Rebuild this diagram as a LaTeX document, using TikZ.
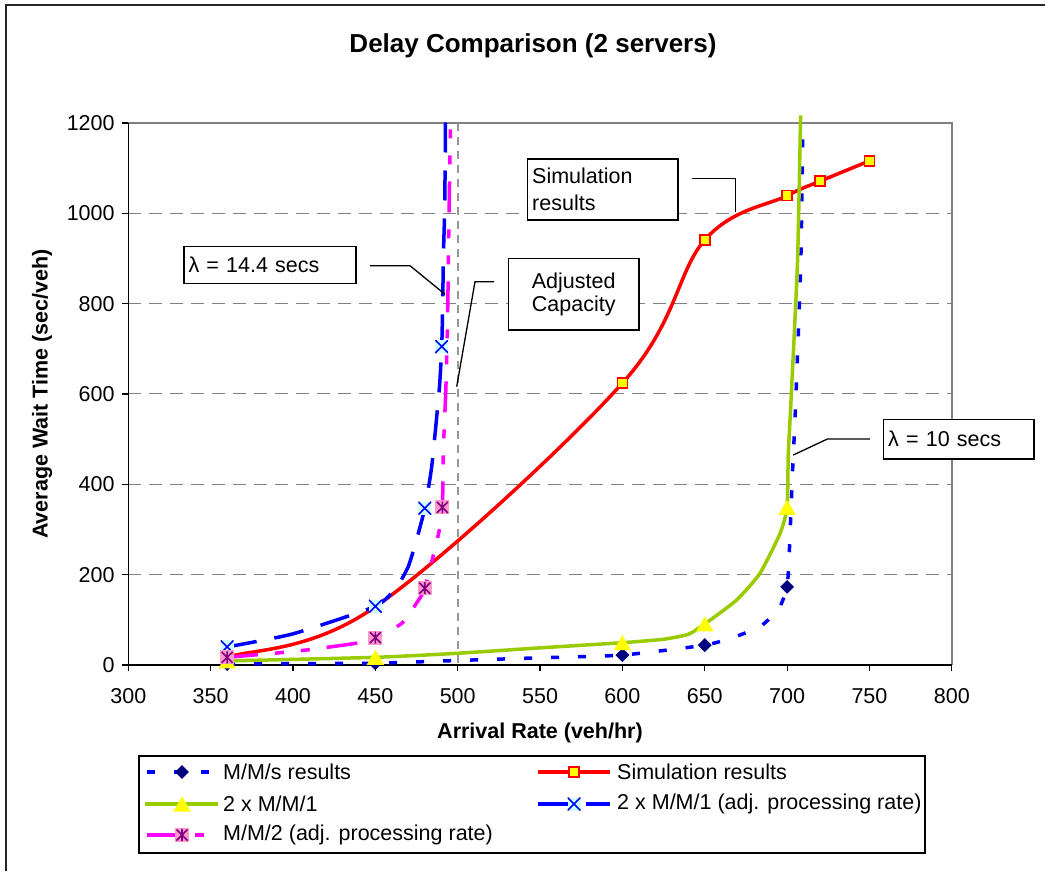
\documentclass[tikz,border=0pt]{standalone}
\usepackage{fontspec}
\setmainfont{Liberation Sans}
\usetikzlibrary{shapes.geometric}
\definecolor{bluec}{RGB}{0,0,255}
\definecolor{navyc}{RGB}{0,0,128}
\definecolor{redc}{RGB}{255,0,0}
\definecolor{yelc}{RGB}{255,255,0}
\definecolor{greenc}{RGB}{153,204,0}
\definecolor{cyanc}{RGB}{204,255,255}
\definecolor{magc}{RGB}{255,0,255}
\definecolor{purc}{RGB}{128,0,128}
\definecolor{pinkc}{RGB}{255,153,204}
\definecolor{gridc}{RGB}{128,128,128}
\definecolor{vlinec}{RGB}{150,150,150}
\begin{document}
\begin{tikzpicture}[x=1pt,y=-1pt,
  txt/.style={font=\fontsize{21.5}{25}\selectfont, inner sep=0pt},
  btxt/.style={font=\bfseries\fontsize{21.5}{25}\selectfont, inner sep=0pt},
  gridl/.style={gridc, line width=1pt, dash pattern=on 13pt off 8pt},
  mmsline/.style={bluec, line width=3.5pt, dash pattern=on 8pt off 19pt},
  simline/.style={redc, line width=3.5pt},
  mmoneline/.style={greenc, line width=3.5pt},
  adjline/.style={bluec, line width=3.5pt, dash pattern=on 30pt off 18pt},
  mmtwoline/.style={magc, line width=3.5pt, dash pattern=on 31pt off 17pt on 9pt off 17pt on 9pt off 17pt},
  diamark/.style={diamond, fill=navyc, minimum size=14pt, inner sep=0pt},
  sqmark/.style={rectangle, fill=yelc, draw=redc, line width=1.6pt, minimum size=10pt, inner sep=0pt},
  trimark/.style={regular polygon, regular polygon sides=3, fill=yelc, minimum size=20pt, inner sep=0pt, yshift=-2.5pt},
  xmark/.style={rectangle, fill=cyanc, minimum size=13pt, inner sep=0pt,
    path picture={\draw[bluec, line width=1.6pt]
      (path picture bounding box.south west) -- (path picture bounding box.north east)
      (path picture bounding box.north west) -- (path picture bounding box.south east);}},
  astmark/.style={rectangle, fill=pinkc, minimum size=14pt, inner sep=0pt,
    path picture={\draw[purc, line width=1.6pt]
      ([shift={(1.5pt,1.5pt)}]path picture bounding box.south west) -- ([shift={(-1.5pt,-1.5pt)}]path picture bounding box.north east)
      ([shift={(1.5pt,-1.5pt)}]path picture bounding box.north west) -- ([shift={(-1.5pt,1.5pt)}]path picture bounding box.south east)
      ([shift={(0pt,-1pt)}]path picture bounding box.north) -- ([shift={(0pt,1pt)}]path picture bounding box.south);}},
  callbox/.style={draw=black, fill=white, line width=1.3pt, inner xsep=4.5pt, inner ysep=0pt},
  ptr/.style={black, line width=1.3pt}
]
\useasboundingbox (0,0) rectangle (1045,871);
\fill[white] (0,0) rectangle (1045,871);
% chart area border (top and left only visible)
\draw[black!85, line width=1.5pt] (6,871) -- (6,5) -- (1045,5);

% title
\node[font=\bfseries\fontsize{26}{30}\selectfont, inner sep=0pt] (title) at (533,46) {Delay Comparison (2 servers)};

% ---------------- plot area in data coordinates ----------------
\begin{scope}[shift={(-365.8,665)}, x=1.647pt, y=0.4517pt]
  % gridlines
  \foreach \w in {200,400,600,800,1000}
    \draw[gridl] (300,\w) -- (800,\w);
  % plot frame (top, right)
  \draw[gridc, line width=2pt] (300,1200) -- (800,1200) -- (800,0);
  % adjusted capacity line
  \draw[vlinec, line width=2pt, dash pattern=on 8pt off 6pt] (500,1200) -- (500,0);
  % axes
  \draw[black, line width=1.5pt] (300,1200) -- (300,0) -- (800,0);
  \foreach \w in {0,200,...,1200} {
    \draw[black, line width=1.2pt] (300,\w) -- ++(-6pt,0pt);
    \node[txt, anchor=east] (yl\w) at ([xshift=-13.5pt]300,\w) {\w};
  }
  \foreach \v in {300,350,...,800} {
    \draw[black, line width=1.2pt] (\v,0) -- ++(0pt,-6pt);
    \node[txt] (xl\v) at ([yshift=-31pt]\v,0) {\v};
  }

  % M/M/s results
  \draw[mmsline] plot[smooth, tension=0.333] coordinates {(360,2) (400,3) (450,4) (500,10) (550,16) (600,22) (650,44) (668,62) (684,86) (695,125) (700,173) (701.4,255) (703.1,410) (705.2,580) (708.3,890) (709.6,1200)};
  \foreach \v/\w [count=\i] in {360/2,450/4,600/22,650/44,700/173}
    \node[diamark] (dm\i) at (\v,\w) {};

  % Simulation results
  \draw[simline] (360,17) .. controls (375,35.7) and (410,27.8) .. (450,129)
    .. controls (490,230.2) and (566.67,488.7) .. (600,624)
    .. controls (633.33,759.3) and (633.33,871.8) .. (650,941)
    .. controls (666.67,1010.2) and (688.33,1017.3) .. (700,1039)
    .. controls (711.67,1060.7) and (711.67,1058.2) .. (720,1071)
    .. controls (728.33,1083.8) and (745,1108.5) .. (750,1116);
  \foreach \v/\w [count=\i] in {360/17,450/129,600/624,650/941,700/1039,720/1071,750/1116}
    \node[sqmark] (sq\i) at (\v,\w) {};

  % 2 x M/M/1
  \draw[mmoneline] plot[smooth, tension=0.333] coordinates {(360,9) (450,17) (500,26) (550,38) (600,49.4) (625,57) (640,68) (650,90.8) (669.4,144) (683.5,203) (695.7,291) (700,349) (700.7,465) (702.4,587) (706.3,890) (708,1180) (708.2,1217)};
  \foreach \v/\w [count=\i] in {360/9,450/17,600/49.4,650/90.8,700/349}
    \node[trimark] (tr\i) at (\v,\w) {};

  % 2 x M/M/1 (adj. processing rate)
  \draw[adjline] plot[smooth, tension=0.333] coordinates {(360,40) (400,69) (450,130) (463,173) (470,218) (475,277) (480,347) (484.2,439) (488.8,610) (490.3,705) (490.9,800) (491.3,905) (492.1,1010) (492.6,1203)};
  \foreach \v/\w [count=\i] in {360/40,450/130,480/347,490.3/705}
    \node[xmark] (xm\i) at (\v,\w) {};

  % M/M/2 (adj. processing rate)
  \draw[mmtwoline] plot[smooth, tension=0.333] coordinates {(360,17) (403,31) (438,48) (450,60.5) (466,92) (475,137) (480,170) (488.2,288) (490.7,349) (491.3,476) (492.8,610) (493.8,755) (494.5,935) (495.3,1130) (495.7,1203)};
  \foreach \v/\w [count=\i] in {360/17,450/60.5,480/170,490.7/349}
    \node[astmark] (as\i) at (\v,\w) {};
\end{scope}

% axis titles
\node[btxt] (xtitle) at (540,733) {Arrival Rate (veh/hr)};
\node[btxt, rotate=90] (ytitle) at (42,394) {Average Wait Time (sec/veh)};

% ---------------- callouts ----------------
\node[callbox, font=\fontsize{21.5}{25}\selectfont, minimum width=172pt, minimum height=37pt, text width=163pt, align=left] (lamA) at (270,264.7) {λ = 14.4 secs};
\coordinate (pa1) at (370,265.7);
\coordinate (pa2) at (410,265.7);
\coordinate (pa3) at (445,294.3);
\draw[ptr] (pa1) -- (pa2) -- (pa3);

\node[callbox, font=\fontsize{21.5}{23.4}\selectfont, minimum width=130.7pt, minimum height=71.7pt, text width=121.7pt, align=center] (adjcap) at (573.7,294.2) {Adjusted\\Capacity};
\coordinate (pb1) at (494,281.7);
\coordinate (pb2) at (475,281.7);
\coordinate (pb3) at (456.7,386.7);
\draw[ptr] (pb1) -- (pb2) -- (pb3);

\node[callbox, font=\fontsize{21.5}{27.5}\selectfont, minimum width=150.2pt, minimum height=61pt, text width=141.2pt, align=left] (simbox) at (602.8,189.5) {Simulation\\results};
\coordinate (pc1) at (692.3,178.3);
\coordinate (pc2) at (735.7,178.3);
\coordinate (pc3) at (735.7,211.7);
\draw[ptr] (pc1) -- (pc2) -- (pc3);

\node[callbox, font=\fontsize{21.5}{25}\selectfont, minimum width=150.2pt, minimum height=39.7pt, text width=141.2pt, align=left] (lamB) at (958.8,439.2) {λ = 10 secs};
\coordinate (pd1) at (870,439);
\coordinate (pd2) at (827.4,439);
\coordinate (pd3) at (793.3,455);
\draw[ptr] (pd1) -- (pd2) -- (pd3);

% ---------------- legend ----------------
\node[draw=black, line width=1.3pt, minimum width=786pt, minimum height=97pt, inner sep=0pt] (legend) at (532,804.5) {};
% row 1 left: M/M/s
\draw[mmsline] (147,772) -- (218,772);
\node[diamark] (lg1) at (182,772) {};
\node[txt, anchor=west] (lt1) at (223,772) {M/M/s results};
% row 1 right: simulation
\draw[simline] (538,772) -- (610,772);
\node[sqmark] (lg2) at (574,772) {};
\node[txt, anchor=west] (lt2) at (617,772) {Simulation results};
% row 2 left: 2 x M/M/1
\draw[mmoneline] (145,804) -- (218,804);
\node[trimark] (lg3) at (182,804) {};
\node[txt, anchor=west] (lt3) at (223,804) {2 x M/M/1};
% row 2 right: adj 2 x M/M/1
\draw[adjline] (538,804) -- (610,804);
\node[xmark] (lg4) at (574,804) {};
\node[txt, anchor=west] (lt4) at (617,804) {2 x M/M/1 (adj. processing rate)};
% row 3 left: M/M/2
\draw[mmtwoline] (147,835) -- (218,835);
\node[astmark] (lg5) at (182,835) {};
\node[txt, anchor=west] (lt5) at (223,835) {M/M/2 (adj. processing rate)};
\end{tikzpicture}
\end{document}
